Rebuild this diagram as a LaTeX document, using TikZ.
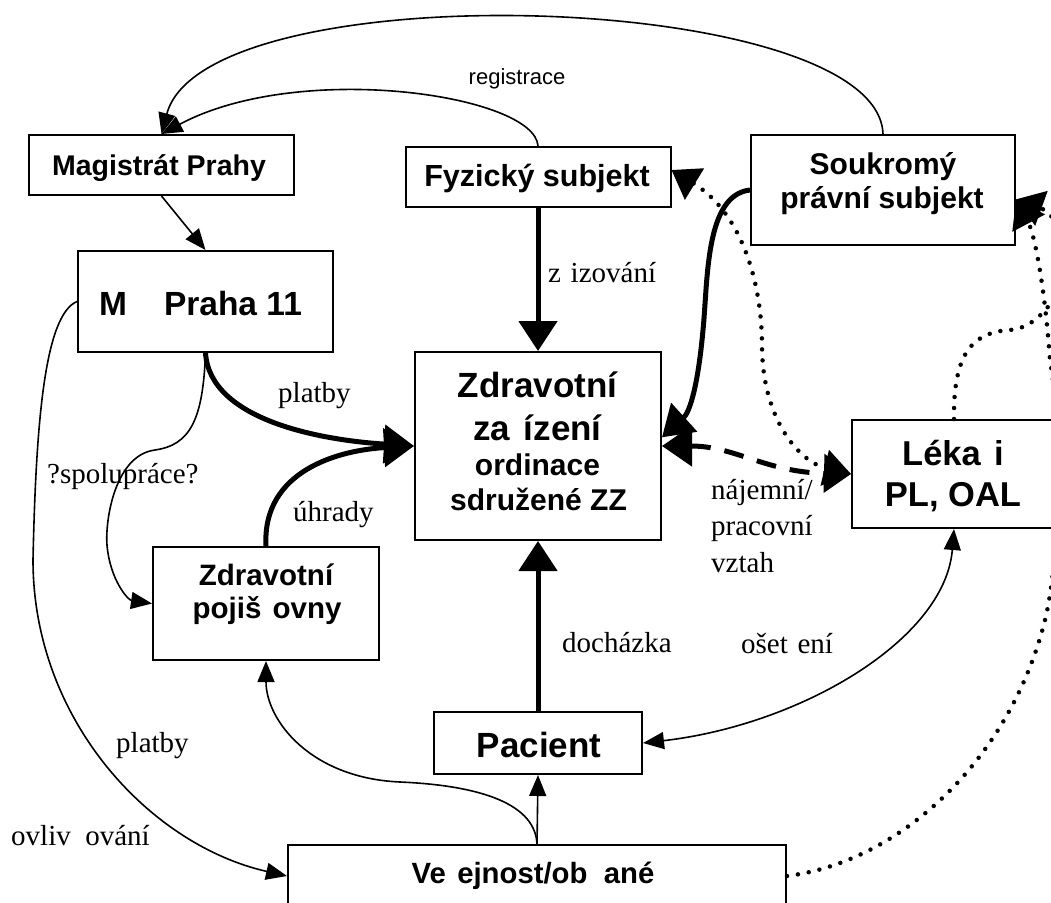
\documentclass[tikz,border=0pt]{standalone}
\usepackage{fontspec}
\setmainfont{Liberation Serif}
\newfontfamily\boxfont{Liberation Sans}
\usetikzlibrary{arrows.meta}
\newcommand\bxf[1]{\boxfont\bfseries\fontsize{#1}{#1}\selectfont}
\begin{document}
\begin{tikzpicture}[x=1pt,y=-1pt,
  box/.style={draw, line width=2pt, inner sep=0pt},
  btxt/.style={anchor=base, inner sep=0pt},
  lbl/.style={anchor=base west, inner sep=0pt, font=\fontsize{29}{34}\selectfont},
  thinline/.style={line width=1.6pt, -{Triangle[length=21pt,width=17pt]}},
  thickline/.style={line width=5pt, -{Triangle[length=30pt,width=38pt]}},
  dotline/.style={line width=4.5pt, dash pattern=on 0pt off 11pt, line cap=round,
     {Triangle[length=27pt,width=36pt]}-{Triangle[length=27pt,width=36pt]}},
  dotone/.style={line width=4.5pt, dash pattern=on 0pt off 11pt, line cap=round,
     -{Triangle[length=27pt,width=36pt]}},
  dashline/.style={line width=5pt, dash pattern=on 20pt off 14pt,
     {Triangle[length=30pt,width=40pt]}-{Triangle[length=27pt,width=38pt]}},
  both/.style={line width=1.6pt, {Triangle[length=21pt,width=17pt]}-{Triangle[length=21pt,width=17pt]}}
]
\clip (0,0) rectangle (1051,902);
\fill[white] (0,0) rectangle (1051,902);

% boxes
\node[box, minimum width=265pt, minimum height=60pt] (mag) at (161.5,165) {};
\node[box, minimum width=265pt, minimum height=60pt] (fyz) at (538,177) {};
\node[box, minimum width=264pt, minimum height=110pt] (sou) at (883,190) {};
\node[box, minimum width=255pt, minimum height=101pt] (mp) at (205.5,301.5) {};
\node[box, minimum width=246pt, minimum height=188pt] (zz) at (538,446) {};
\node[box, minimum width=204pt, minimum height=108pt] (lek) at (954,474) {};
\node[box, minimum width=226pt, minimum height=113pt] (zp) at (266,603.5) {};
\node[box, minimum width=208pt, minimum height=62pt] (pac) at (538,743) {};
\node[box, minimum width=498pt, minimum height=62pt] (ve) at (537,876) {};

% box texts
\node[btxt, font=\bxf{28.5}] (magt) at (159,175) {Magistrát Prahy};
\node[btxt, font=\bxf{30.5}] (fyzt) at (537,186) {Fyzický subjekt};
\node[btxt, font=\bxf{30}] (sout1) at (883,174) {Soukromý};
\node[btxt, font=\bxf{30}] (sout2) at (882,208) {právní subjekt};
\node[btxt, font=\bxf{33.5}] (mpt) at (200.5,315) {M\hspace{37pt}Praha 11};
\node[btxt, font=\bxf{35}] (zzt1) at (537.5,397) {Zdravotní};
\node[btxt, font=\bxf{35}] (zzt2) at (537.5,440) {za\hspace{0.389em}ízení};
\node[btxt, font=\bxf{30}] (zzt3) at (537.5,475) {ordinace};
\node[btxt, font=\bxf{30}] (zzt4) at (538.5,510) {sdružené ZZ};
\node[btxt, font=\bxf{34.5}] (lekt1) at (953,465) {Léka\hspace{0.389em}i};
\node[btxt, font=\bxf{34.5}] (lekt2) at (953,506) {PL, OAL};
\node[btxt, font=\bxf{29.5}] (zpt1) at (266,585) {Zdravotní};
\node[btxt, font=\bxf{29.5}] (zpt2) at (267,618) {pojiš\hspace{0.38em}ovny};
\node[btxt, font=\bxf{35}] (pact) at (539,757) {Pacient};
\node[btxt, font=\bxf{29.3}] (vet) at (533,883) {Ve\hspace{0.389em}ejnost/ob\hspace{0.556em}ané};

% labels
\node[anchor=base, inner sep=0pt, font=\boxfont\fontsize{22}{24}\selectfont] (lreg) at (517,84) {registrace};
\node[lbl] (lzri) at (548,282) {z\hspace{0.333em}izování};
\node[lbl] (lpl1) at (278,402) {platby};
\node[lbl] (lspo) at (47,483) {?spolupráce?};
\node[lbl] (luhr) at (293,521) {úhrady};
\node[lbl] (lnaj1) at (711,499) {nájemní/};
\node[lbl] (lnaj2) at (711,535) {pracovní};
\node[lbl] (lnaj3) at (711,572) {vztah};
\node[lbl] (ldoc) at (562,652) {docházka};
\node[lbl] (lose) at (741,653) {ošet\hspace{0.333em}ení};
\node[lbl] (lpl2) at (116,752) {platby};
\node[lbl] (lovl) at (11,845) {ovliv\hspace{0.5em}ování};

% thin connectors
\draw[thinline] (mag.south) -- (mp.north);
\draw[thinline] (fyz.north) .. controls (535,95) and (300,60) .. (mag.north);
\draw[thinline] (sou.north) .. controls (878,-10) and (205,-30) .. (mag.north);
\draw[thinline] (mp.south) .. controls (203,420) and (190,445) .. (155,450)
   .. controls (115,455) and (105,520) .. (107,545)
   .. controls (110,580) and (128,600) .. (zp.west);
\draw[thinline] (mp.west) .. controls (45,315) and (36,420) .. (33,560)
   .. controls (33,720) and (150,845) .. (ve.west);
\draw[thinline] (ve.north) -- (pac.south);
\draw[thinline] (ve.north) .. controls (535,800) and (470,785) .. (400,782)
   .. controls (310,778) and (266,720) .. (zp.south);
\draw[both] (pac.east) .. controls (800,725) and (945,640) .. (lek.south);

% thick connectors
\draw[thickline] (fyz.south) -- (zz.north);
\draw[thickline] (pac.north) -- (zz.south);
\draw[thickline] (mp.south) .. controls (210,420) and (320,440) .. (zz.west);
\draw[thickline] (zp.north) .. controls (262,470) and (340,450) .. (zz.west);
\draw[thickline] (sou.west) .. controls (705,195) and (708,280) .. (703,330)
   .. controls (698,385) and (690,412) .. (zz.4);

% dashed and dotted
\draw[dashline] (zz.east) .. controls (735,446) and (765,472) .. (lek.west);
\draw[dotline] (fyz.3) .. controls (745,215) and (762,290) .. (762,345)
   .. controls (762,420) and (800,462) .. (lek.west);
\draw[dotone] (ve.east) .. controls (900,862) and (1010,760) .. (1045,620)
   .. controls (1060,560) and (1062,430) .. (1050,360)
   .. controls (1045,290) and (1035,235) .. (sou.-4);
\draw[dotone] (lek.north) .. controls (953,350) and (975,332) .. (1010,330)
   .. controls (1035,328) and (1050,305) .. (1060,290)
   .. controls (1075,260) and (1060,215) .. (sou.-4);
\end{tikzpicture}
\end{document}
